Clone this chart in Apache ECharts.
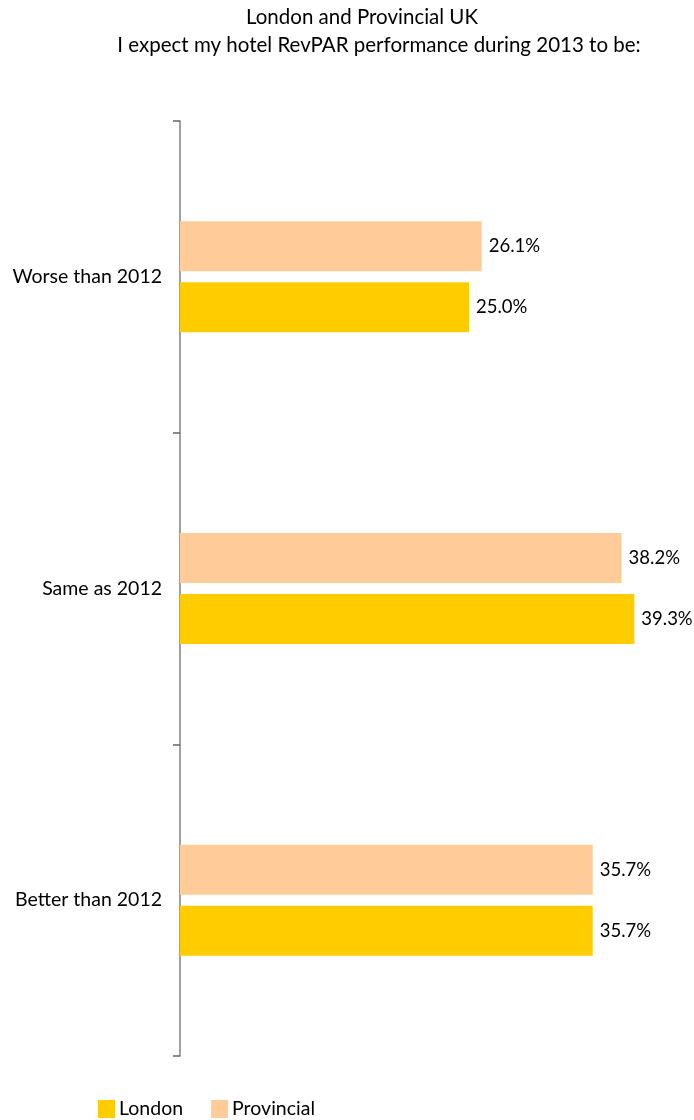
<!DOCTYPE html>
<html>
<head>
<meta charset="utf-8">
<script src="https://cdn.jsdelivr.net/npm/echarts@6/dist/echarts.min.js"></script>
<style>
  html, body { margin: 0; padding: 0; background: #fff; }
  #chart { width: 694px; height: 1120px; }
</style>
</head>
<body>
<div id="chart"></div>
<script>
// Survey answers, top to bottom
const categories = ['Worse than 2012', 'Same as 2012', 'Better than 2012'];
const londonValues = [25.0, 39.3, 35.7];
const provincialValues = [26.1, 38.2, 35.7];
const titleLines = ['London and Provincial UK', 'I expect my hotel RevPAR performance during 2013 to be:'];

const FONT = 'Lato, "Open Sans", sans-serif';
const chart = echarts.init(document.getElementById('chart'));

const labelStyle = {
  show: true,
  position: 'right',
  distance: 7,
  color: '#000',
  fontFamily: FONT,
  fontSize: 18.5,
  formatter: p => p.value.toFixed(1) + '%'
};

// Each title line is laid out on its own so it can be centred independently
const titleStyle = { fontFamily: FONT, fontSize: 20.5, fontWeight: 'normal', color: '#000' };

chart.setOption({
  animation: false,
  title: [
    { text: titleLines[0], left: 362, textAlign: 'center', top: 7, padding: 0, textStyle: titleStyle },
    { text: titleLines[1], left: 379, textAlign: 'center', top: 35, padding: 0, textStyle: titleStyle }
  ],
  legend: {
    data: ['London', 'Provincial'],
    left: 98,
    top: 1099,
    padding: 0,
    itemWidth: 17,
    itemHeight: 18,
    itemGap: 28,
    icon: 'rect',
    textStyle: { fontFamily: FONT, fontSize: 19.5, color: '#000', padding: [0, 0, 0, -1] }
  },
  grid: { left: 180, top: 121, width: 462.4, bottom: 64 },
  xAxis: {
    type: 'value',
    min: 0,
    max: 40,
    show: false
  },
  yAxis: {
    type: 'category',
    data: categories,
    inverse: true,
    axisLine: { lineStyle: { color: '#808080', width: 1.5 } },
    axisTick: { show: true, length: 7, lineStyle: { color: '#666', width: 1.5 } },
    axisLabel: { color: '#000', fontFamily: FONT, fontSize: 19.5, margin: 18 },
    splitLine: { show: false }
  },
  series: [
    {
      name: 'Provincial',
      type: 'bar',
      data: provincialValues,
      barWidth: 50,
      barGap: '22%',
      itemStyle: { color: '#FFCC99' },
      label: labelStyle
    },
    {
      name: 'London',
      type: 'bar',
      data: londonValues,
      barWidth: 50,
      barGap: '22%',
      itemStyle: { color: '#FFCC00' },
      label: labelStyle
    }
  ]
});
</script>
</body>
</html>
